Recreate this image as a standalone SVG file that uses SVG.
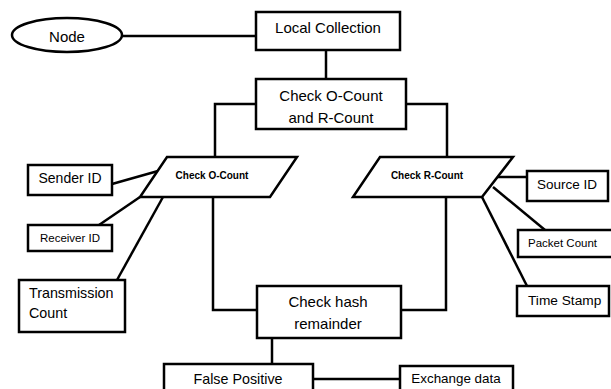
<svg xmlns="http://www.w3.org/2000/svg" width="611" height="389" viewBox="0 0 611 389">
<style>
.s{fill:#fff;stroke:#000;stroke-width:2.5}
.c{fill:none;stroke:#000;stroke-width:2.5}
text{font-family:"Liberation Sans",Arial,sans-serif;fill:#000}
.m{text-anchor:middle}
.b{font-weight:bold;font-size:10px}
</style>
<rect width="611" height="389" fill="#fff"/>
<g id="connectors">
<line class="c" x1="122" y1="36" x2="256" y2="36"/>
<line class="c" x1="326" y1="50" x2="326" y2="79"/>
<polyline class="c" points="256,104 215,104 215,157"/>
<polyline class="c" points="406,104 447,104 447,157"/>
<polyline class="c" points="213,197 213,310 257,310"/>
<polyline class="c" points="446,197 446,310 401,310"/>
<line class="c" x1="112" y1="184" x2="158" y2="171"/>
<line class="c" x1="99" y1="225" x2="140" y2="197"/>
<line class="c" x1="117" y1="280" x2="163" y2="197"/>
<line class="c" x1="493" y1="177" x2="527" y2="177"/>
<line class="c" x1="493" y1="187" x2="545" y2="230"/>
<line class="c" x1="482" y1="197" x2="527" y2="286"/>
<line class="c" x1="272" y1="338" x2="272" y2="364"/>
<line class="c" x1="313" y1="379" x2="400" y2="379"/>
</g>
<g id="node"><ellipse class="s" cx="67" cy="35" rx="55" ry="17"/><text class="m" x="67" y="42" font-size="15">Node</text></g>
<g id="local-collection"><rect class="s" x="256" y="12" width="144" height="38"/><text class="m" x="328" y="33" font-size="15">Local Collection</text></g>
<g id="check-counts"><rect class="s" x="256" y="79" width="150" height="50"/><text class="m" x="331" y="101" font-size="15">Check O-Count</text><text class="m" x="331" y="123" font-size="15">and R-Count</text></g>
<g id="check-o"><polygon class="s" points="167,157 297,157 270,197 140,197"/><text class="m b" x="212" y="179">Check O-Count</text></g>
<g id="check-r"><polygon class="s" points="380,157 513,157 482,197 353,197"/><text class="m b" x="427" y="179">Check R-Count</text></g>
<g id="sender-id"><rect class="s" x="28" y="165" width="84" height="30"/><text class="m" x="70" y="183" font-size="14">Sender ID</text></g>
<g id="receiver-id"><rect class="s" x="28" y="225" width="84" height="26"/><text class="m" x="70" y="242" font-size="11.5">Receiver ID</text></g>
<g id="transmission-count"><rect class="s" x="19" y="280" width="106" height="52"/><text x="29" y="298" font-size="14.3">Transmission</text><text x="29" y="318" font-size="14.3">Count</text></g>
<g id="source-id"><rect class="s" x="527" y="171" width="81" height="30"/><text class="m" x="567" y="189" font-size="13.5">Source ID</text></g>
<g id="packet-count"><rect class="s" x="518" y="230" width="96" height="27"/><text x="528" y="247" font-size="11.5">Packet Count</text></g>
<g id="time-stamp"><rect class="s" x="517" y="286" width="92" height="30"/><text x="528" y="305" font-size="13.7">Time Stamp</text></g>
<g id="check-hash"><rect class="s" x="257" y="286" width="144" height="52"/><text class="m" x="328" y="307" font-size="15">Check hash</text><text class="m" x="328" y="329" font-size="15">remainder</text></g>
<g id="false-positive"><rect class="s" x="164" y="364" width="149" height="40"/><text class="m" x="238" y="384" font-size="14.3">False Positive</text></g>
<g id="exchange-data"><rect class="s" x="400" y="366" width="113" height="30"/><text class="m" x="456" y="383" font-size="13.4">Exchange data</text></g>
</svg>
